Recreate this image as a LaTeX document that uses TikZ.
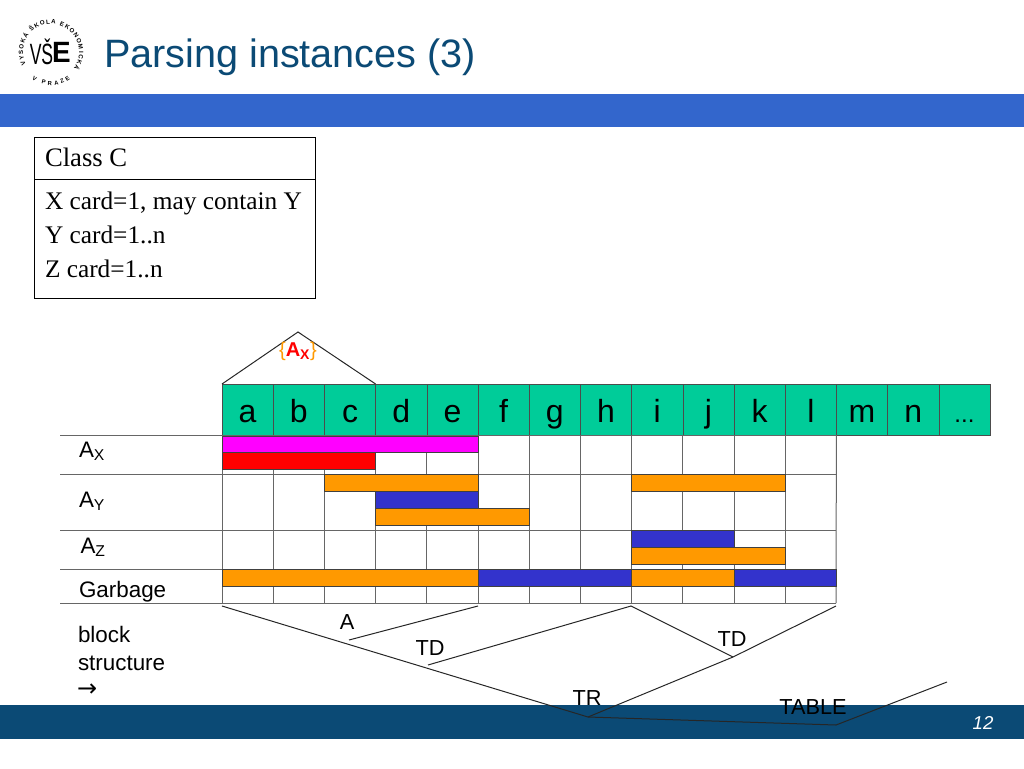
\documentclass[tikz,border=0pt]{standalone}
\usepackage{fontspec}
\setmainfont{Liberation Sans}
\newfontfamily\boxfont{Liberation Serif}
\newfontfamily\arrowfont{DejaVu Sans}
\usetikzlibrary{decorations.text}
\definecolor{titleblue}{HTML}{0B4A75}
\definecolor{bandblue}{HTML}{3366CC}
\definecolor{cellgreen}{HTML}{00CC99}
\definecolor{baramber}{HTML}{FF9900}
\definecolor{barblue}{HTML}{3333CC}
\definecolor{barpink}{HTML}{FF00FF}
\definecolor{barred}{HTML}{FF0000}

\begin{document}
\begin{tikzpicture}
[x=0.75pt,y=-0.75pt,
every node/.style={inner sep=0pt,outer sep=0pt},
cellbox/.style={draw=black!70,fill=cellgreen,minimum width=38.4pt,minimum height=38.25pt,
  text height=20pt,text depth=0pt,font=\fontsize{24}{24}\selectfont},
rowlabel/.style={anchor=base west,font=\fontsize{16.8}{17}\selectfont},
blocklabel/.style={font=\fontsize{16.3}{16}\selectfont},
classtext/.style={anchor=base west,font=\boxfont\fontsize{19}{19}\selectfont},
gridline/.style={draw=black!60,line width=0.75pt},
blockline/.style={draw=black!85,line width=0.75pt},
barbox/.style={draw=black!75,line width=0.6pt},
]
\useasboundingbox (0,0) rectangle (1024,768);

% bands
\fill[bandblue] (0,94) rectangle (1024,127);
\fill[titleblue] (0,705) rectangle (1024,739);

% logo
\coordinate (logoc) at (51,52);
\path[decorate,decoration={text along path,text align=fit to path,
  text={|\fontsize{4.6}{5}\selectfont\bfseries|VYSOKÁ ŠKOLA EKONOMICKÁ}}]
  (logoc) ++(207:21pt) arc[start angle=207,end angle=-36,radius=21pt];
\path[decorate,decoration={text along path,text align=fit to path,
  text={|\fontsize{4.4}{5}\selectfont\bfseries|V PRAZE}}]
  (logoc) ++(235:25pt) arc[start angle=235,end angle=305,radius=25pt];
\node[xscale=.6,transform shape,font=\fontsize{22}{22}\selectfont] (logovs) at (41.5,52) {VŠ};
\node[font=\bfseries\fontsize{22}{22}\selectfont,xscale=.95,transform shape] (logoe) at (61.5,52) {E};

% title and page number
\node[anchor=base west,text=titleblue,font=\fontsize{29.7}{30}\selectfont] (title) at (104,67) {Parsing instances (3)};
\node[text=white,font=\itshape\fontsize{14}{14}\selectfont] (pageno) at (983,723) {12};

% class box
\node[draw,line width=0.75pt,minimum width=211pt,minimum height=31.5pt,anchor=north west] (classhead) at (34,137) {};
\node[draw,line width=0.75pt,minimum width=211pt,minimum height=89.5pt,anchor=north west] (classbody) at (34,179) {};
\node[classtext,font=\boxfont\fontsize{20}{20}\selectfont] (classname) at (45,166) {Class C};
\node[classtext] (classx) at (45,209) {X card=1, may contain Y};
\node[classtext] (classy) at (45,243) {Y card=1..n};
\node[classtext] (classz) at (45,277) {Z card=1..n};

% word cells
\foreach \name [count=\i from 0] in {a,b,c,d,e,f,g,h,i,j,k,l,m,n}
  \node[cellbox] (cell\i) at ({247.6+51.2*\i},409.5) {\name};
\node[cellbox,anchor=west,font=\fontsize{18}{18}\selectfont] (cellmore) at (cell13.east) {...};

% row lines and cell lines
\foreach \y [count=\i] in {435,474,530,569,603} {
  \coordinate (rowl\i) at (60,\y);
  \coordinate (rowr\i) at (836,\y);
  \draw[gridline] (rowl\i) -- (rowr\i);
}
\foreach \i in {0,1,2,3,4,5,6,7,8,9,10,11}
  \draw[gridline] (cell\i.south west) -- (cell\i.south west |- rowr5);
\draw[gridline] (cell11.south east) -- (rowr5);

% bars
\foreach \xa/\ya/\xb/\yb/\barcol in {
  222/436/478/452/barpink, 222/452/375/469/barred,
  324/474/478/491/baramber, 375/491/478/508/barblue, 375/508/529/525/baramber,
  631/474/785/491/baramber,
  631/530/734/547/barblue, 631/547/785/564/baramber,
  222/569/478/586/baramber, 478/569/631/586/barblue,
  631/569/734/586/baramber, 734/569/836/586/barblue}
  \draw[barbox,fill=\barcol] (\xa,\ya) rectangle (\xb,\yb);

% row labels
\node[rowlabel] (labx) at (79,457) {A\textsubscript{X}};
\node[rowlabel] (laby) at (79,507) {A\textsubscript{Y}};
\node[rowlabel] (labz) at (80.5,553) {A\textsubscript{Z}};
\node[rowlabel] (labgarbage) at (79,597) {Garbage};
\node[rowlabel] (labblock) at (78,642) {block};
\node[rowlabel] (labstruct) at (78,670) {structure};
\node[rowlabel,font=\arrowfont\fontsize{18}{18}\selectfont] (labarrow) at (77,696) {→};

% instance roof
\coordinate (roofl) at (cell0.north west);
\coordinate (rooft) at (298,332);
\coordinate (roofr) at (cell2.north east);
\draw[blockline] (roofl) -- (rooft) -- (roofr);
\node[font=\fontsize{15}{15}\selectfont] (roofx) at (298,351)
  {\textcolor{baramber}{\{}\textcolor{barred}{\textbf{A\textsubscript{X}}}\textcolor{baramber}{\}}};

% block structure
\coordinate (ba) at (222,606);
\coordinate (bb) at (478,606);
\coordinate (bc) at (349,640);
\coordinate (bd) at (428,665);
\coordinate (be) at (631,606);
\coordinate (bf) at (733,657);
\coordinate (bg) at (836,606);
\coordinate (bh) at (588,717);
\coordinate (bi) at (836,725);
\coordinate (bj) at (947,682);
\draw[blockline] (ba) -- (bh) -- (bi) -- (bj);
\draw[blockline] (bb) -- (bc);
\draw[blockline] (bd) -- (be) -- (bf);
\draw[blockline] (bg) -- (bf) -- (bh);
\node[blocklabel] (blocka) at (347,622) {A};
\node[blocklabel] (blocktd) at (430,648) {TD};
\node[blocklabel] (blocktdb) at (732,639) {TD};
\node[blocklabel] (blocktr) at (587,698) {TR};
\node[blocklabel] (blocktable) at (813,707) {TABLE};
\end{tikzpicture}
\end{document}
